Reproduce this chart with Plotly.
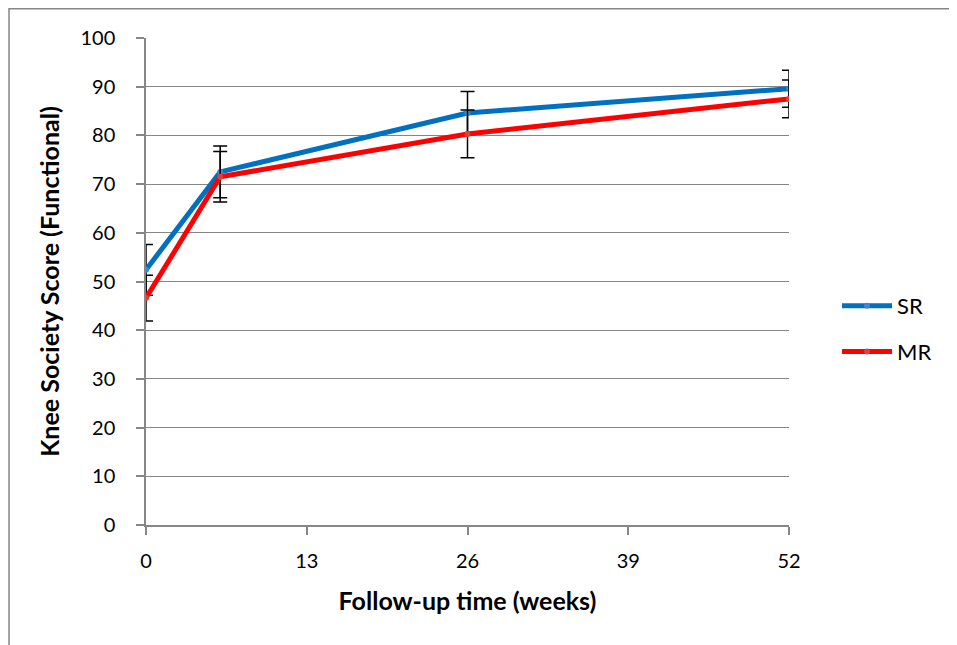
import plotly.graph_objects as go

weeks = [0, 6, 26, 52]
sr_values = [52.4, 72.5, 84.6, 89.6]
sr_errors = [5.2, 5.3, 4.4, 3.8]
mr_values = [46.6, 71.5, 80.3, 87.5]
mr_errors = [4.7, 5.2, 4.9, 3.9]
x_ticks = [0, 13, 26, 39, 52]
y_ticks = [0, 10, 20, 30, 40, 50, 60, 70, 80, 90, 100]

FONT = "Lato"

fig = go.Figure()
fig.add_trace(go.Scatter(
    x=weeks, y=sr_values, name="SR", mode="lines+markers",
    line=dict(color="#0070C0", width=5),
    marker=dict(color="#3F86CC", size=6),
    error_y=dict(type="data", array=sr_errors, visible=True,
                 color="black", thickness=1.5, width=7),
    legendgroup="sr",
))
fig.add_trace(go.Scatter(
    x=weeks, y=mr_values, name="MR", mode="lines+markers",
    line=dict(color="#FF0000", width=5),
    marker=dict(color="#D94040", size=6),
    error_y=dict(type="data", array=mr_errors, visible=True,
                 color="black", thickness=1.5, width=7),
    legendgroup="mr",
))

# page body adds an 8px offset; margins compensate so plot area lands at 146..789 x 38..525
OFF = 8
L, R, T, B = 146 - OFF, 168 + OFF, 38 - OFF, 120 + OFF
W, H = 957, 645
pw, ph = W - L - R, H - T - B

def px(x):
    return (x - OFF - L) / pw

def py(y):
    return (H - B - (y - OFF)) / ph

fig.update_layout(
    width=W, height=H,
    margin=dict(l=L, r=R, t=T, b=B, pad=0),
    paper_bgcolor="white", plot_bgcolor="white",
    font=dict(family=FONT, size=20, color="black"),
    xaxis=dict(
        range=[0, 52], tickvals=x_ticks, showgrid=False, zeroline=False,
        showline=True, linecolor="#868686", linewidth=1.5,
        ticks="outside", ticklen=8, tickcolor="#868686", tickwidth=1.5,
        tickfont=dict(size=20), ticklabelstandoff=9,
        title=dict(text="<b>Follow-up time (weeks)</b>", font=dict(size=25), standoff=22),
    ),
    yaxis=dict(
        range=[0, 100], tickvals=y_ticks, showgrid=True, gridcolor="#868686",
        gridwidth=1, zeroline=False, showline=True, linecolor="#868686",
        linewidth=1.5, ticks="outside", ticklen=8, tickcolor="#868686",
        tickwidth=1.5, tickfont=dict(size=20), ticklabelstandoff=17,
        title=dict(text="<b>Knee Society Score (Functional)</b>", font=dict(size=25), standoff=14),
    ),
    legend=dict(
        x=px(837), y=py(285), xanchor="left", yanchor="top",
        font=dict(size=22), tracegroupgap=14, bgcolor="rgba(0,0,0,0)",
        itemwidth=50,
    ),
    showlegend=True,
    shapes=[dict(
        type="rect", xref="paper", yref="paper",
        x0=px(9), x1=px(1000), y0=py(680), y1=py(8.7),
        line=dict(color="#868686", width=1.5), fillcolor="rgba(0,0,0,0)",
        layer="below",
    )],
)

fig.write_html("out.html")
